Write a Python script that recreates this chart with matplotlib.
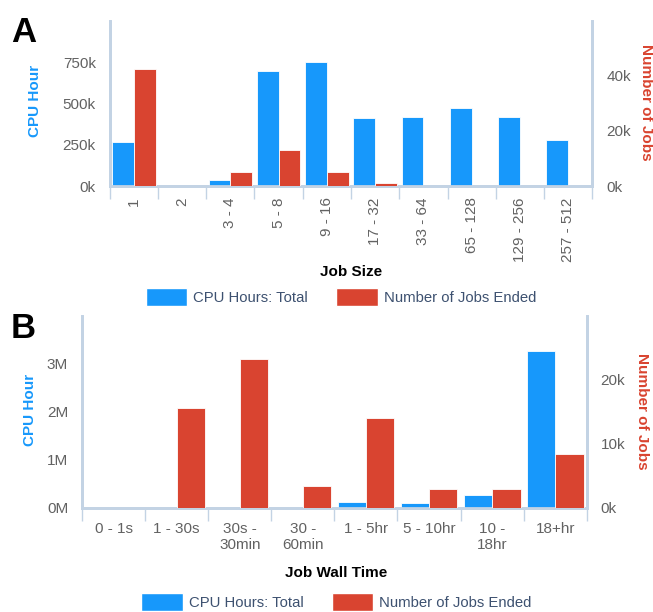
import matplotlib
matplotlib.use("Agg")
import matplotlib.pyplot as plt
import numpy as np
from matplotlib.patches import Patch

plt.rcParams['font.family'] = ['Liberation Sans', 'DejaVu Sans']

# ---- Data ----
size_cats = ["1", "2", "3 - 4", "5 - 8", "9 - 16", "17 - 32", "33 - 64",
             "65 - 128", "129 - 256", "257 - 512"]
size_cpu = [265e3, 0, 36e3, 697e3, 753e3, 410e3, 416e3, 471e3, 416e3, 279e3]
size_jobs = [42.5e3, 0, 5.2e3, 13.0e3, 5.2e3, 1.1e3, 0, 0, 0, 0]

wall_cats = ["0 - 1s", "1 - 30s", "30s -\n30min", "30 -\n60min", "1 - 5hr",
             "5 - 10hr", "10 -\n18hr", "18+hr"]
wall_cpu = [0, 0, 0, 0, 0.13e6, 0.10e6, 0.28e6, 3.27e6]
wall_jobs = [0, 15.6e3, 23.3e3, 3.4e3, 14.0e3, 3.0e3, 3.0e3, 8.4e3]

BLUE = "#1798fb"
RED = "#d94430"
SPINE = "#c3d3e4"
TICKC = "#626262"
LEGTXT = "#3d5170"
TFS = 11

fig = plt.figure(figsize=(6.53, 6.12), dpi=100)


def style_axes(ax, ax2, n):
    for a in (ax, ax2):
        a.spines['top'].set_visible(False)
        for s in ('left', 'right', 'bottom'):
            a.spines[s].set_color(SPINE)
            a.spines[s].set_linewidth(2)
        a.tick_params(axis='y', length=0, labelsize=TFS, labelcolor=TICKC, pad=10)
    ax.set_xlim(-0.5, n - 0.5)
    ax.set_xticks(np.arange(n))
    ax.set_xticks(np.arange(n + 1) - 0.5, minor=True)
    ax.tick_params(axis='x', which='major', length=0, labelsize=TFS, labelcolor=TICKC)
    ax.tick_params(axis='x', which='minor', length=9, color=SPINE, width=1)
    ax2.tick_params(axis='x', which='both', length=0)


def kfmt(v, unit, div):
    return f"{int(round(v / div))}{unit}"


# ---- Panel A ----
axA = fig.add_axes([0.168, 0.696, 0.739, 0.270])
axA2 = axA.twinx()
xA = np.arange(len(size_cats))
w = 0.45
axA.bar(xA - w / 2, size_cpu, w, color=BLUE, edgecolor='white', linewidth=0.6, zorder=3)
axA2.bar(xA + w / 2, size_jobs, w, color=RED, edgecolor='white', linewidth=0.6, zorder=3)
axA.set_ylim(0, 1000e3)
axA2.set_ylim(0, 60e3)
axA.set_yticks([0, 250e3, 500e3, 750e3])
axA.set_yticklabels([kfmt(v, 'k', 1e3) for v in [0, 250e3, 500e3, 750e3]])
axA2.set_yticks([0, 20e3, 40e3])
axA2.set_yticklabels([kfmt(v, 'k', 1e3) for v in [0, 20e3, 40e3]])
style_axes(axA, axA2, len(size_cats))
axA.set_xticklabels(size_cats, rotation=90, va='top')
axA.tick_params(axis='x', which='major', pad=8)
fig.text(0.053, 0.835, "CPU Hour", rotation=90, color=BLUE, fontsize=11,
         fontweight='bold', ha='center', va='center')
fig.text(0.989, 0.833, "Number of Jobs", rotation=-90, color=RED, fontsize=11,
         fontweight='bold', ha='center', va='center')
fig.text(0.537, 0.555, "Job Size", fontsize=11, fontweight='bold', ha='center', va='center')
fig.text(0.017, 0.931, "A", fontsize=25, fontweight='bold', ha='left', va='baseline')

handles = [Patch(facecolor=BLUE, edgecolor='white'), Patch(facecolor=RED, edgecolor='white')]
labels = ["CPU Hours: Total", "Number of Jobs Ended"]
fig.legend(handles, labels, loc='center', bbox_to_anchor=(0.522, 0.514), ncol=2,
           frameon=False, fontsize=10.7, handlelength=2.8, handleheight=1.5,
           columnspacing=1.9, handletextpad=0.4, labelcolor=LEGTXT)

# ---- Panel B ----
axB = fig.add_axes([0.1256, 0.170, 0.773, 0.314])
axB2 = axB.twinx()
xB = np.arange(len(wall_cats))
axB.bar(xB - w / 2, wall_cpu, w, color=BLUE, edgecolor='white', linewidth=0.6, zorder=3)
axB2.bar(xB + w / 2, wall_jobs, w, color=RED, edgecolor='white', linewidth=0.6, zorder=3)
axB.set_ylim(0, 4e6)
axB2.set_ylim(0, 30e3)
axB.set_yticks([0, 1e6, 2e6, 3e6])
axB.set_yticklabels(["0M", "1M", "2M", "3M"])
axB2.set_yticks([0, 10e3, 20e3])
axB2.set_yticklabels(["0k", "10k", "20k"])
style_axes(axB, axB2, len(wall_cats))
axB.set_xticklabels(wall_cats, linespacing=1.2)
axB.tick_params(axis='x', which='major', pad=10)
fig.text(0.046, 0.33, "CPU Hour", rotation=90, color=BLUE, fontsize=11,
         fontweight='bold', ha='center', va='center')
fig.text(0.983, 0.328, "Number of Jobs", rotation=-90, color=RED, fontsize=11,
         fontweight='bold', ha='center', va='center')
fig.text(0.515, 0.063, "Job Wall Time", fontsize=11, fontweight='bold', ha='center', va='center')
fig.text(0.017, 0.448, "B", fontsize=25, fontweight='bold', ha='left', va='baseline')

fig.legend(handles, labels, loc='center', bbox_to_anchor=(0.515, 0.016), ncol=2,
           frameon=False, fontsize=10.7, handlelength=2.8, handleheight=1.5,
           columnspacing=1.9, handletextpad=0.4, labelcolor=LEGTXT)

fig.savefig("out.png", dpi=100)
